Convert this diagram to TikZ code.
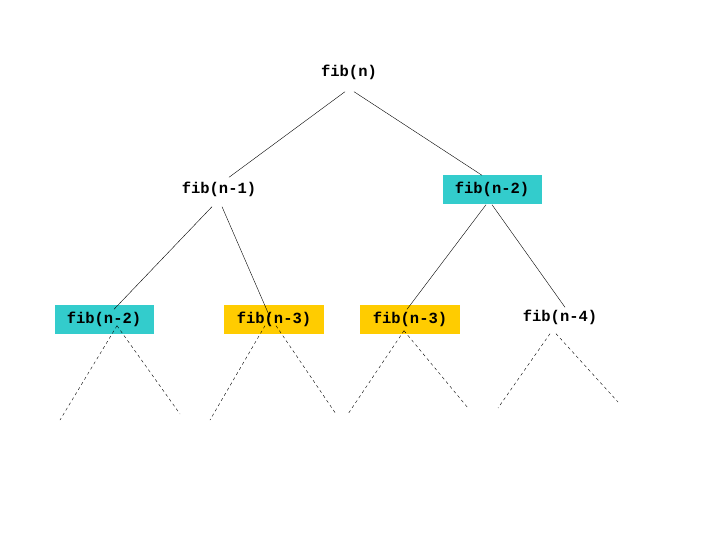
\documentclass[tikz,border=0pt]{standalone}
\usepackage{fontspec}
\setmonofont{Liberation Mono}
\definecolor{fibteal}{HTML}{33CCCC}
\definecolor{fibgold}{HTML}{FFCC00}
\begin{document}
\begin{tikzpicture}[x=1pt,y=-1pt,
    call/.style={font=\ttfamily\bfseries\fontsize{15.5}{16}\selectfont, inner sep=0pt, minimum height=29pt, text height=10pt, text depth=2pt},
    dup/.style={call, fill=fibteal, minimum width=99pt},
    again/.style={call, fill=fibgold, minimum width=100pt},
    rest/.style={dashed, thin}]
    \useasboundingbox (0,0) rectangle (720,540);
    \node[call] (root) at (349,73) {fib(n)};
    \node[call] (n1) at (219,190) {fib(n-1)};
    \node[dup] (n2) at (492,190) {fib(n-2)};
    \node[dup] (a) at (104,319) {fib(n-2)};
    \node[again] (b) at (274,319) {fib(n-3)};
    \node[again] (c) at (410,319) {fib(n-3)};
    \node[call] (d) at (560,317) {fib(n-4)};
    \coordinate (a1) at (60,420);  \coordinate (a2) at (180,414);
    \coordinate (b1) at (210,420); \coordinate (b2) at (336,414);
    \coordinate (c1) at (348,414); \coordinate (c2) at (468,408);
    \coordinate (d1) at (498,408); \coordinate (d2) at (618,402);
    % calls
    \draw[thin] ([xshift=-4pt,yshift=-4pt]root.south) -- ([xshift=10pt,yshift=-2pt]n1.north);
    \draw[thin] ([xshift=5pt,yshift=-4pt]root.south) -- ([xshift=-10pt]n2.north);
    \draw[thin] ([xshift=-7pt,yshift=-2pt]n1.south) -- ([xshift=10pt,yshift=-5pt]a.north);
    \draw[thin] ([xshift=3pt,yshift=-2pt]n1.south) -- ([xshift=-4pt,yshift=-13pt]b.north);
    \draw[thin] ([xshift=-6pt]n2.south) -- ([xshift=-3pt,yshift=-5pt]c.north);
    \draw[thin] (n2.south) -- ([xshift=5pt,yshift=-5pt]d.north);
    % unexpanded subtrees
    \draw[rest] ([xshift=13pt,yshift=8pt]a.south) -- (a1);
    \draw[rest] ([xshift=13pt,yshift=8pt]a.south) -- (a2);
    \draw[rest] ([xshift=-9pt,yshift=8pt]b.south) -- (b1);
    \draw[rest] ([xshift=2pt,yshift=8pt]b.south) -- (b2);
    \draw[rest] ([xshift=-6pt,yshift=3pt]c.south) -- (c1);
    \draw[rest] ([xshift=-6pt,yshift=3pt]c.south) -- (c2);
    \draw[rest] ([xshift=-10pt,yshift=-2pt]d.south) -- (d1);
    \draw[rest] ([xshift=-4pt,yshift=-2pt]d.south) -- (d2);
\end{tikzpicture}
\end{document}
